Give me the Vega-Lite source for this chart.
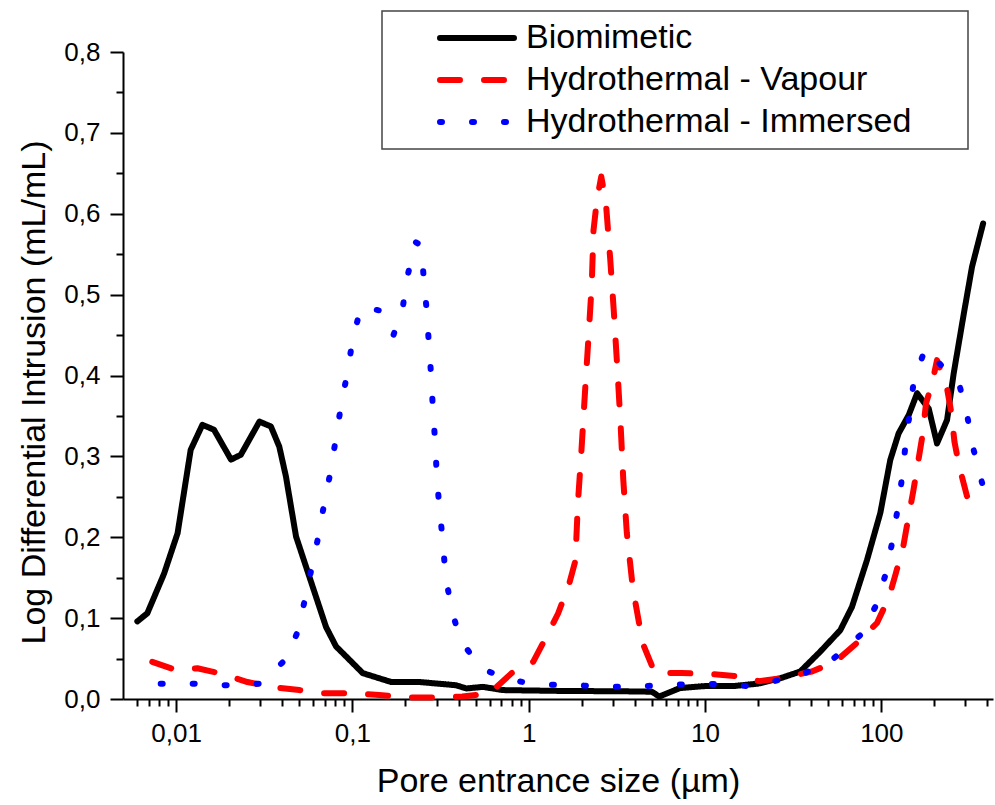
{
  "$schema": "https://vega.github.io/schema/vega-lite/v6.json",
  "width": 870,
  "height": 647,
  "autosize": {"type": "none"},
  "padding": {"left": 123, "top": 52, "right": 2, "bottom": 106},
  "background": "white",
  "config": {
    "view": {"stroke": null},
    "font": "Liberation Sans",
    "axis": {
      "domainColor": "black", "domainWidth": 2, "tickColor": "black", "tickWidth": 2,
      "labelColor": "black", "titleColor": "black", "grid": false,
      "labelFont": "Liberation Sans", "titleFont": "Liberation Sans", "titleFontWeight": "normal",
      "labelFontSize": 26, "titleFontSize": 34
    }
  },
  "datasets": {
    "d": [
      {"series": "Biomimetic", "size": 0.00603, "value": 0.096},
      {"series": "Biomimetic", "size": 0.00687, "value": 0.106},
      {"series": "Biomimetic", "size": 0.00855, "value": 0.155},
      {"series": "Biomimetic", "size": 0.0102, "value": 0.205},
      {"series": "Biomimetic", "size": 0.0121, "value": 0.308},
      {"series": "Biomimetic", "size": 0.0141, "value": 0.339},
      {"series": "Biomimetic", "size": 0.0164, "value": 0.333},
      {"series": "Biomimetic", "size": 0.0205, "value": 0.296},
      {"series": "Biomimetic", "size": 0.0233, "value": 0.302},
      {"series": "Biomimetic", "size": 0.0297, "value": 0.343},
      {"series": "Biomimetic", "size": 0.0345, "value": 0.337},
      {"series": "Biomimetic", "size": 0.0385, "value": 0.312},
      {"series": "Biomimetic", "size": 0.042, "value": 0.275},
      {"series": "Biomimetic", "size": 0.0479, "value": 0.201},
      {"series": "Biomimetic", "size": 0.0595, "value": 0.139},
      {"series": "Biomimetic", "size": 0.0709, "value": 0.089},
      {"series": "Biomimetic", "size": 0.0808, "value": 0.065},
      {"series": "Biomimetic", "size": 0.1145, "value": 0.032},
      {"series": "Biomimetic", "size": 0.166, "value": 0.021},
      {"series": "Biomimetic", "size": 0.24, "value": 0.021},
      {"series": "Biomimetic", "size": 0.388, "value": 0.017},
      {"series": "Biomimetic", "size": 0.443, "value": 0.013},
      {"series": "Biomimetic", "size": 0.55, "value": 0.015},
      {"series": "Biomimetic", "size": 0.714, "value": 0.011},
      {"series": "Biomimetic", "size": 1.5, "value": 0.010},
      {"series": "Biomimetic", "size": 3.5, "value": 0.0095},
      {"series": "Biomimetic", "size": 5.0, "value": 0.009},
      {"series": "Biomimetic", "size": 5.5, "value": 0.003},
      {"series": "Biomimetic", "size": 7.2, "value": 0.0135},
      {"series": "Biomimetic", "size": 10, "value": 0.016},
      {"series": "Biomimetic", "size": 14.5, "value": 0.016},
      {"series": "Biomimetic", "size": 20, "value": 0.019},
      {"series": "Biomimetic", "size": 26.7, "value": 0.0256},
      {"series": "Biomimetic", "size": 34.7, "value": 0.034},
      {"series": "Biomimetic", "size": 45, "value": 0.0585},
      {"series": "Biomimetic", "size": 58.5, "value": 0.085},
      {"series": "Biomimetic", "size": 68.2, "value": 0.114},
      {"series": "Biomimetic", "size": 83, "value": 0.172},
      {"series": "Biomimetic", "size": 98.7, "value": 0.23},
      {"series": "Biomimetic", "size": 112.4, "value": 0.2955},
      {"series": "Biomimetic", "size": 125.4, "value": 0.3285},
      {"series": "Biomimetic", "size": 143, "value": 0.351},
      {"series": "Biomimetic", "size": 159.6, "value": 0.378},
      {"series": "Biomimetic", "size": 185.8, "value": 0.359},
      {"series": "Biomimetic", "size": 207, "value": 0.316},
      {"series": "Biomimetic", "size": 236, "value": 0.345},
      {"series": "Biomimetic", "size": 257.5, "value": 0.403},
      {"series": "Biomimetic", "size": 294, "value": 0.477},
      {"series": "Biomimetic", "size": 327, "value": 0.5345},
      {"series": "Biomimetic", "size": 378, "value": 0.588},

      {"series": "Hydrothermal - Vapour", "size": 0.00733, "value": 0.046},
      {"series": "Hydrothermal - Vapour", "size": 0.00996, "value": 0.036},
      {"series": "Hydrothermal - Vapour", "size": 0.0132, "value": 0.038},
      {"series": "Hydrothermal - Vapour", "size": 0.0175, "value": 0.032},
      {"series": "Hydrothermal - Vapour", "size": 0.0254, "value": 0.021},
      {"series": "Hydrothermal - Vapour", "size": 0.0345, "value": 0.015},
      {"series": "Hydrothermal - Vapour", "size": 0.05, "value": 0.011},
      {"series": "Hydrothermal - Vapour", "size": 0.069, "value": 0.007},
      {"series": "Hydrothermal - Vapour", "size": 0.1025, "value": 0.007},
      {"series": "Hydrothermal - Vapour", "size": 0.142, "value": 0.005},
      {"series": "Hydrothermal - Vapour", "size": 0.211, "value": 0.002},
      {"series": "Hydrothermal - Vapour", "size": 0.29, "value": 0.002},
      {"series": "Hydrothermal - Vapour", "size": 0.42, "value": 0.003},
      {"series": "Hydrothermal - Vapour", "size": 0.6, "value": 0.007},
      {"series": "Hydrothermal - Vapour", "size": 0.8, "value": 0.032},
      {"series": "Hydrothermal - Vapour", "size": 1.06, "value": 0.046},
      {"series": "Hydrothermal - Vapour", "size": 1.26, "value": 0.077},
      {"series": "Hydrothermal - Vapour", "size": 1.47, "value": 0.106},
      {"series": "Hydrothermal - Vapour", "size": 1.69, "value": 0.141},
      {"series": "Hydrothermal - Vapour", "size": 1.84, "value": 0.171},
      {"series": "Hydrothermal - Vapour", "size": 1.90, "value": 0.241},
      {"series": "Hydrothermal - Vapour", "size": 1.99, "value": 0.306},
      {"series": "Hydrothermal - Vapour", "size": 2.08, "value": 0.375},
      {"series": "Hydrothermal - Vapour", "size": 2.18, "value": 0.445},
      {"series": "Hydrothermal - Vapour", "size": 2.28, "value": 0.514},
      {"series": "Hydrothermal - Vapour", "size": 2.33, "value": 0.579},
      {"series": "Hydrothermal - Vapour", "size": 2.44, "value": 0.618},
      {"series": "Hydrothermal - Vapour", "size": 2.58, "value": 0.646},
      {"series": "Hydrothermal - Vapour", "size": 2.74, "value": 0.614},
      {"series": "Hydrothermal - Vapour", "size": 2.9, "value": 0.544},
      {"series": "Hydrothermal - Vapour", "size": 3.04, "value": 0.479},
      {"series": "Hydrothermal - Vapour", "size": 3.18, "value": 0.41},
      {"series": "Hydrothermal - Vapour", "size": 3.32, "value": 0.34},
      {"series": "Hydrothermal - Vapour", "size": 3.44, "value": 0.271},
      {"series": "Hydrothermal - Vapour", "size": 3.6, "value": 0.206},
      {"series": "Hydrothermal - Vapour", "size": 3.9, "value": 0.1365},
      {"series": "Hydrothermal - Vapour", "size": 4.43, "value": 0.069},
      {"series": "Hydrothermal - Vapour", "size": 5.2, "value": 0.032},
      {"series": "Hydrothermal - Vapour", "size": 7.35, "value": 0.032},
      {"series": "Hydrothermal - Vapour", "size": 10.8, "value": 0.031},
      {"series": "Hydrothermal - Vapour", "size": 15.7, "value": 0.028},
      {"series": "Hydrothermal - Vapour", "size": 20.3, "value": 0.022},
      {"series": "Hydrothermal - Vapour", "size": 26.7, "value": 0.0256},
      {"series": "Hydrothermal - Vapour", "size": 40.4, "value": 0.034},
      {"series": "Hydrothermal - Vapour", "size": 54.8, "value": 0.046},
      {"series": "Hydrothermal - Vapour", "size": 76, "value": 0.073},
      {"series": "Hydrothermal - Vapour", "size": 94.5, "value": 0.094},
      {"series": "Hydrothermal - Vapour", "size": 110, "value": 0.1245},
      {"series": "Hydrothermal - Vapour", "size": 120, "value": 0.153},
      {"series": "Hydrothermal - Vapour", "size": 133, "value": 0.188},
      {"series": "Hydrothermal - Vapour", "size": 141, "value": 0.219},
      {"series": "Hydrothermal - Vapour", "size": 151.5, "value": 0.256},
      {"series": "Hydrothermal - Vapour", "size": 160, "value": 0.287},
      {"series": "Hydrothermal - Vapour", "size": 170, "value": 0.322},
      {"series": "Hydrothermal - Vapour", "size": 179.5, "value": 0.366},
      {"series": "Hydrothermal - Vapour", "size": 194, "value": 0.39},
      {"series": "Hydrothermal - Vapour", "size": 207, "value": 0.419},
      {"series": "Hydrothermal - Vapour", "size": 236, "value": 0.384},
      {"series": "Hydrothermal - Vapour", "size": 249, "value": 0.355},
      {"series": "Hydrothermal - Vapour", "size": 260, "value": 0.318},
      {"series": "Hydrothermal - Vapour", "size": 277, "value": 0.287},
      {"series": "Hydrothermal - Vapour", "size": 307, "value": 0.25},
      {"series": "Hydrothermal - Vapour", "size": 385, "value": 0.232},

      {"series": "Hydrothermal - Immersed", "size": 0.00818, "value": 0.019},
      {"series": "Hydrothermal - Immersed", "size": 0.01265, "value": 0.019},
      {"series": "Hydrothermal - Immersed", "size": 0.0191, "value": 0.017},
      {"series": "Hydrothermal - Immersed", "size": 0.0296, "value": 0.019},
      {"series": "Hydrothermal - Immersed", "size": 0.042, "value": 0.049},
      {"series": "Hydrothermal - Immersed", "size": 0.0489, "value": 0.083},
      {"series": "Hydrothermal - Immersed", "size": 0.054, "value": 0.1245},
      {"series": "Hydrothermal - Immersed", "size": 0.059, "value": 0.164},
      {"series": "Hydrothermal - Immersed", "size": 0.0644, "value": 0.203},
      {"series": "Hydrothermal - Immersed", "size": 0.0694, "value": 0.243},
      {"series": "Hydrothermal - Immersed", "size": 0.0757, "value": 0.284},
      {"series": "Hydrothermal - Immersed", "size": 0.0808, "value": 0.324},
      {"series": "Hydrothermal - Immersed", "size": 0.0866, "value": 0.365},
      {"series": "Hydrothermal - Immersed", "size": 0.094, "value": 0.405},
      {"series": "Hydrothermal - Immersed", "size": 0.1004, "value": 0.445},
      {"series": "Hydrothermal - Immersed", "size": 0.112, "value": 0.485},
      {"series": "Hydrothermal - Immersed", "size": 0.1455, "value": 0.48},
      {"series": "Hydrothermal - Immersed", "size": 0.171, "value": 0.45},
      {"series": "Hydrothermal - Immersed", "size": 0.193, "value": 0.484},
      {"series": "Hydrothermal - Immersed", "size": 0.206, "value": 0.524},
      {"series": "Hydrothermal - Immersed", "size": 0.228, "value": 0.565},
      {"series": "Hydrothermal - Immersed", "size": 0.2456, "value": 0.561},
      {"series": "Hydrothermal - Immersed", "size": 0.254, "value": 0.52},
      {"series": "Hydrothermal - Immersed", "size": 0.264, "value": 0.48},
      {"series": "Hydrothermal - Immersed", "size": 0.2716, "value": 0.439},
      {"series": "Hydrothermal - Immersed", "size": 0.28, "value": 0.3985},
      {"series": "Hydrothermal - Immersed", "size": 0.2864, "value": 0.357},
      {"series": "Hydrothermal - Immersed", "size": 0.295, "value": 0.317},
      {"series": "Hydrothermal - Immersed", "size": 0.301, "value": 0.276},
      {"series": "Hydrothermal - Immersed", "size": 0.312, "value": 0.235},
      {"series": "Hydrothermal - Immersed", "size": 0.326, "value": 0.1945},
      {"series": "Hydrothermal - Immersed", "size": 0.337, "value": 0.154},
      {"series": "Hydrothermal - Immersed", "size": 0.363, "value": 0.113},
      {"series": "Hydrothermal - Immersed", "size": 0.409, "value": 0.073},
      {"series": "Hydrothermal - Immersed", "size": 0.538, "value": 0.038},
      {"series": "Hydrothermal - Immersed", "size": 0.773, "value": 0.0235},
      {"series": "Hydrothermal - Immersed", "size": 1.16, "value": 0.018},
      {"series": "Hydrothermal - Immersed", "size": 1.85, "value": 0.017},
      {"series": "Hydrothermal - Immersed", "size": 2.93, "value": 0.015},
      {"series": "Hydrothermal - Immersed", "size": 4.54, "value": 0.016},
      {"series": "Hydrothermal - Immersed", "size": 7.18, "value": 0.018},
      {"series": "Hydrothermal - Immersed", "size": 11.2, "value": 0.0185},
      {"series": "Hydrothermal - Immersed", "size": 17.5, "value": 0.016},
      {"series": "Hydrothermal - Immersed", "size": 23.4, "value": 0.021},
      {"series": "Hydrothermal - Immersed", "size": 35.4, "value": 0.030},
      {"series": "Hydrothermal - Immersed", "size": 53.6, "value": 0.05},
      {"series": "Hydrothermal - Immersed", "size": 76, "value": 0.079},
      {"series": "Hydrothermal - Immersed", "size": 92.5, "value": 0.114},
      {"series": "Hydrothermal - Immersed", "size": 105.4, "value": 0.153},
      {"series": "Hydrothermal - Immersed", "size": 115, "value": 0.1925},
      {"series": "Hydrothermal - Immersed", "size": 123, "value": 0.2316},
      {"series": "Hydrothermal - Immersed", "size": 131, "value": 0.273},
      {"series": "Hydrothermal - Immersed", "size": 137, "value": 0.313},
      {"series": "Hydrothermal - Immersed", "size": 145, "value": 0.354},
      {"series": "Hydrothermal - Immersed", "size": 153, "value": 0.394},
      {"series": "Hydrothermal - Immersed", "size": 178, "value": 0.434},
      {"series": "Hydrothermal - Immersed", "size": 226, "value": 0.409},
      {"series": "Hydrothermal - Immersed", "size": 279, "value": 0.386},
      {"series": "Hydrothermal - Immersed", "size": 309, "value": 0.347},
      {"series": "Hydrothermal - Immersed", "size": 334, "value": 0.308},
      {"series": "Hydrothermal - Immersed", "size": 373, "value": 0.267}
    ]
  },
  "layer": [
    {
      "data": {"name": "d"},
      "mark": {"type": "line", "strokeWidth": 6, "strokeCap": "round", "strokeJoin": "round"},
      "encoding": {
        "x": {
          "field": "size", "type": "quantitative",
          "scale": {"type": "log", "domain": [0.005, 430], "nice": false},
          "axis": {
            "orient": "bottom", "values": [0.01, 0.1, 1, 10, 100],
            "labelExpr": "replace(format(datum.value, '~g'), '.', ',')",
            "tickSize": 13, "labelPadding": 8, "labelFlush": false, "labelOverlap": false,
            "title": "Pore entrance size (µm)", "titlePadding": 18
          }
        },
        "y": {
          "field": "value", "type": "quantitative",
          "scale": {"domain": [0, 0.8], "nice": false},
          "axis": {
            "orient": "left", "values": [0, 0.1, 0.2, 0.3, 0.4, 0.5, 0.6, 0.7, 0.8],
            "labelExpr": "replace(format(datum.value, '.1f'), '.', ',')",
            "tickSize": 13, "labelPadding": 10, "labelFlush": false, "labelOverlap": false,
            "title": "Log Differential Intrusion (mL/mL)", "titlePadding": 12, "titleY": 340
          }
        },
        "color": {
          "field": "series", "type": "nominal",
          "scale": {"domain": ["Biomimetic", "Hydrothermal - Vapour", "Hydrothermal - Immersed"], "range": ["#000000", "#ff0000", "#0000ff"]},
          "legend": {
            "title": " ", "titleOrient": "right", "titlePadding": 47, "titleFontSize": 10,
            "orient": "none", "legendX": 259, "legendY": -41,
            "symbolType": "M-5,0H5", "symbolSize": 219, "symbolStrokeWidth": 6,
            "symbolOffset": 68, "labelOffset": 32, "labelFontSize": 34, "labelFont": "Liberation Sans",
            "labelColor": "black", "labelLimit": 0, "rowPadding": 8, "padding": 10,
            "strokeColor": "#444444", "fillColor": "white",
            "encode": {
              "symbols": {"update": {
                "strokeCap": {"value": "round"},
                "strokeDash": [
                  {"test": "datum.value === 'Hydrothermal - Vapour'", "value": [17, 40]},
                  {"test": "datum.value === 'Hydrothermal - Immersed'", "value": [0.5, 35]},
                  {"value": [1, 0]}
                ]
              }},
              "legend": {"update": {"strokeWidth": {"value": 1.5}}}
            }
          }
        },
        "strokeDash": {
          "field": "series", "type": "nominal",
          "scale": {"domain": ["Biomimetic", "Hydrothermal - Vapour", "Hydrothermal - Immersed"], "range": [[1, 0], [20, 24], [2, 30]]},
          "legend": {
            "title": " ", "titleOrient": "right", "titlePadding": 47, "titleFontSize": 10,
            "orient": "none", "legendX": 259, "legendY": -41,
            "symbolType": "M-5,0H5", "symbolSize": 219, "symbolStrokeWidth": 6,
            "symbolOffset": 68, "labelOffset": 32, "labelFontSize": 34, "labelFont": "Liberation Sans",
            "labelColor": "black", "labelLimit": 0, "rowPadding": 8, "padding": 10,
            "strokeColor": "#444444", "fillColor": "white",
            "encode": {
              "symbols": {"update": {
                "strokeCap": {"value": "round"},
                "strokeDash": [
                  {"test": "datum.value === 'Hydrothermal - Vapour'", "value": [17, 40]},
                  {"test": "datum.value === 'Hydrothermal - Immersed'", "value": [0.5, 35]},
                  {"value": [1, 0]}
                ]
              }},
              "legend": {"update": {"strokeWidth": {"value": 1.5}}}
            }
          }
        }
      }
    },
    {
      "data": {"name": "d"},
      "mark": {"type": "point", "opacity": 0},
      "encoding": {
        "x": {
          "field": "size", "type": "quantitative",
          "scale": {"type": "log", "domain": [0.005, 430], "nice": false},
          "axis": {
            "orient": "bottom",
            "values": [0.006, 0.007, 0.008, 0.009, 0.02, 0.03, 0.04, 0.05, 0.06, 0.07, 0.08, 0.09, 0.2, 0.3, 0.4, 0.5, 0.6, 0.7, 0.8, 0.9, 2, 3, 4, 5, 6, 7, 8, 9, 20, 30, 40, 50, 60, 70, 80, 90, 200, 300, 400],
            "labels": false, "tickSize": 7, "domain": false, "title": null
          }
        },
        "y": {
          "field": "value", "type": "quantitative",
          "scale": {"domain": [0, 0.8], "nice": false},
          "axis": {
            "orient": "left",
            "values": [0.05, 0.15, 0.25, 0.35, 0.45, 0.55, 0.65, 0.75],
            "labels": false, "tickSize": 7, "domain": false, "title": null
          }
        }
      }
    }
  ],
  "resolve": {"axis": {"x": "independent", "y": "independent"}}
}
